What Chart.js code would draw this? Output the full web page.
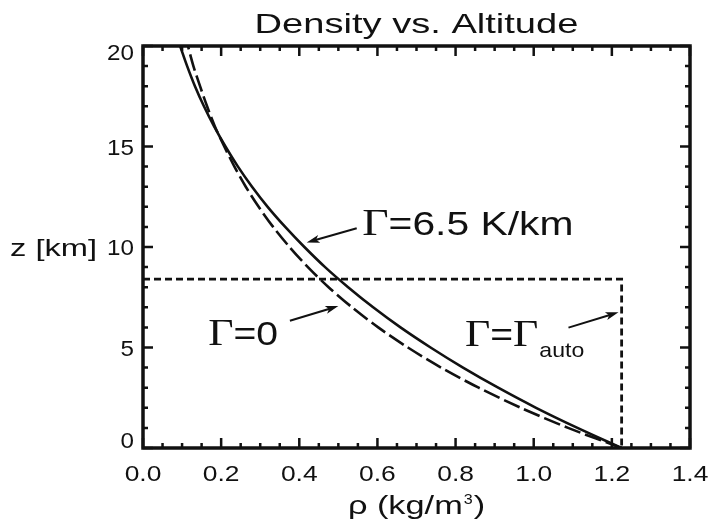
<!DOCTYPE html>
<html>
<head>
<meta charset="utf-8">
<script src="https://cdn.jsdelivr.net/npm/chart.js@4"></script>
<style>
  body { margin: 0; background: #fff; }
  #wrap { width: 714px; height: 528px; }
</style>
</head>
<body>
<div id="wrap"><canvas id="densityChart" width="714" height="528"></canvas></div>
<script>
// altitude grid (km) and densities (kg/m^3)
const altitude = [0, 1, 2, 3, 4, 5, 6, 7, 8, 9, 10, 11, 12, 13, 14, 15, 16, 17, 18, 19, 20];
const rhoLapse = [1.225, 1.112, 1.006, 0.909, 0.819, 0.736, 0.659, 0.589, 0.525, 0.466, 0.413,
                  0.364, 0.319, 0.279, 0.243, 0.211, 0.182, 0.156, 0.133, 0.113, 0.095];
const rhoIso   = [1.225, 1.088, 0.967, 0.859, 0.763, 0.678, 0.602, 0.535, 0.475, 0.422, 0.375,
                  0.333, 0.296, 0.263, 0.234, 0.208, 0.184, 0.164, 0.146, 0.129, 0.115];
// the Gamma_auto box: flat top then straight down at surface density
const autoRho = [0, 1.225, 1.225];
const autoZ   = [8.4, 8.4, 0];

const xTickValues = [0, 0.2, 0.4, 0.6, 0.8, 1.0, 1.2, 1.4];
const yTickValues = [0, 5, 10, 15, 20];

const SANS = '"Liberation Sans", Arial, Helvetica, sans-serif';
const SERIF = '"Liberation Serif", "Times New Roman", serif';

function toPoints(xs, ys) {
    return xs.map((x, i) => ({ x: x, y: ys[i] }));
}

// curve labels, anchored in data space
const notes = [
    { text: '=6.5 K/km', sub: null, sx: 1.2, x: 0.561, y: 10.6, ax: 0.547, ay: 10.93, tx: 0.419, ty: 10.23 },
    { text: '=0', sub: null, sx: 1.15, x: 0.167, y: 5.1, ax: 0.376, ay: 6.33, tx: 0.500, ty: 7.06 },
    { text: '=', sub: 'auto', sx: 1.15, x: 0.824, y: 5.05, ax: 1.089, ay: 5.99, tx: 1.217, ty: 6.75 }
];

// the original's lettering is drawn wider than normal, so stretch it sideways
function wideText(ctx, text, x, y, sx, align) {
    ctx.save();
    ctx.translate(x, y);
    ctx.scale(sx, 1);
    ctx.textAlign = align;
    ctx.fillText(text, 0, 0);
    ctx.restore();
    return ctx.measureText(text).width * sx;
}

function drawArrow(ctx, x1, y1, x2, y2) {
    const ang = Math.atan2(y2 - y1, x2 - x1);
    const len = 13, half = 4;
    ctx.beginPath();
    ctx.moveTo(x1, y1);
    ctx.lineTo(x2 - Math.cos(ang) * len * 0.7, y2 - Math.sin(ang) * len * 0.7);
    ctx.lineWidth = 2;
    ctx.stroke();
    ctx.beginPath();
    ctx.moveTo(x2, y2);
    ctx.lineTo(x2 - Math.cos(ang) * len + Math.sin(ang) * half, y2 - Math.sin(ang) * len - Math.cos(ang) * half);
    ctx.lineTo(x2 - Math.cos(ang) * len * 0.75, y2 - Math.sin(ang) * len * 0.75);
    ctx.lineTo(x2 - Math.cos(ang) * len - Math.sin(ang) * half, y2 - Math.sin(ang) * len + Math.cos(ang) * half);
    ctx.closePath();
    ctx.fill();
}

const idlFrame = {
    id: 'idlFrame',
    afterDraw(chart) {
        const ctx = chart.ctx;
        const a = chart.chartArea;
        const xs = chart.scales.x, ys = chart.scales.y;
        ctx.save();
        ctx.strokeStyle = '#111';
        ctx.fillStyle = '#111';

        // inward ticks on all four sides
        ctx.lineWidth = 2.5;
        for (let i = 0; i <= 28; i++) {
            const px = xs.getPixelForValue(i * 0.05);
            const len = (i % 4 === 0) ? 10 : 5;
            ctx.beginPath();
            ctx.moveTo(px, a.bottom); ctx.lineTo(px, a.bottom - len);
            ctx.moveTo(px, a.top); ctx.lineTo(px, a.top + len);
            ctx.stroke();
        }
        for (let i = 0; i <= 20; i++) {
            const py = ys.getPixelForValue(i);
            const len = (i % 5 === 0) ? 10 : 5;
            ctx.beginPath();
            ctx.moveTo(a.left, py); ctx.lineTo(a.left + len, py);
            ctx.moveTo(a.right, py); ctx.lineTo(a.right - len, py);
            ctx.stroke();
        }
        ctx.lineWidth = 3.5;
        ctx.strokeRect(a.left, a.top, a.right - a.left, a.bottom - a.top);

        // tick labels
        ctx.textBaseline = 'alphabetic';
        ctx.font = '22px ' + SANS;
        xTickValues.forEach(v => {
            wideText(ctx, v.toFixed(1), xs.getPixelForValue(v), a.bottom + 33, 1.2, 'center');
        });
        yTickValues.forEach(v => {
            let py = ys.getPixelForValue(v) + 8;
            if (v === 20) py += 6;
            if (v === 0) py -= 8;
            wideText(ctx, String(v), a.left - 9, py, 1.1, 'right');
        });

        // title and axis names
        ctx.font = '28px ' + SANS;
        wideText(ctx, 'Density vs. Altitude', (a.left + a.right) / 2, 33, 1.36, 'center');
        ctx.font = '24px ' + SANS;
        wideText(ctx, 'z [km]', 10, ys.getPixelForValue(10) + 9, 1.36, 'left');
        ctx.font = '26px ' + SANS;
        const rhoW = ctx.measureText('\u03c1 (kg/m').width * 1.32;
        const parW = ctx.measureText(')').width * 1.32;
        ctx.font = '14px ' + SANS;
        const supW = ctx.measureText('3').width * 1.15;
        let tx = (a.left + a.right) / 2 - (rhoW + supW + parW + 2) / 2;
        ctx.font = '26px ' + SANS;
        tx += wideText(ctx, '\u03c1 (kg/m', tx, 514, 1.32, 'left');
        ctx.font = '14px ' + SANS;
        tx += wideText(ctx, '3', tx + 1, 504, 1.15, 'left') + 2;
        ctx.font = '26px ' + SANS;
        wideText(ctx, ')', tx, 514, 1.32, 'left');

        // curve annotations
        notes.forEach(n => {
            let px = xs.getPixelForValue(n.x);
            const py = ys.getPixelForValue(n.y);
            ctx.font = '38px ' + SERIF;
            px += wideText(ctx, '\u0393', px, py, n.sx, 'left');
            ctx.font = '34px ' + SANS;
            px += wideText(ctx, n.text, px, py, n.sx, 'left');
            if (n.sub) {
                ctx.font = '38px ' + SERIF;
                px += wideText(ctx, '\u0393', px, py, n.sx, 'left');
                ctx.font = '21px ' + SANS;
                wideText(ctx, n.sub, px + 1, py + 11, 1.1, 'left');
            }
            drawArrow(ctx, xs.getPixelForValue(n.ax), ys.getPixelForValue(n.ay),
                      xs.getPixelForValue(n.tx), ys.getPixelForValue(n.ty));
        });
        ctx.restore();
    }
};

new Chart(document.getElementById('densityChart'), {
    type: 'scatter',
    data: {
        datasets: [
            {
                label: 'Gamma = 6.5 K/km',
                data: toPoints(rhoLapse, altitude),
                showLine: true, borderColor: '#111', borderWidth: 2.6,
                pointRadius: 0, tension: 0.3
            },
            {
                label: 'Gamma = 0',
                data: toPoints(rhoIso, altitude),
                showLine: true, borderColor: '#111', borderWidth: 2.6,
                borderDash: [17, 5], pointRadius: 0, tension: 0.3
            },
            {
                label: 'Gamma = Gamma_auto',
                data: toPoints(autoRho, autoZ),
                showLine: true, borderColor: '#111', borderWidth: 2.8,
                borderDash: [7, 4], pointRadius: 0, tension: 0
            }
        ]
    },
    options: {
        responsive: false,
        animation: false,
        layout: { padding: { top: 46, right: 24, left: 0, bottom: 0 } },
        plugins: {
            legend: { display: false },
            tooltip: { enabled: false }
        },
        scales: {
            x: {
                type: 'linear', min: 0, max: 1.4,
                afterFit: s => { s.height = 80; },
                afterBuildTicks: s => { s.ticks = xTickValues.map(v => ({ value: v })); },
                grid: { display: false, drawTicks: false },
                border: { display: false },
                ticks: { display: false }
            },
            y: {
                type: 'linear', min: 0, max: 20,
                afterFit: s => { s.width = 143; },
                afterBuildTicks: s => { s.ticks = yTickValues.map(v => ({ value: v })); },
                grid: { display: false, drawTicks: false },
                border: { display: false },
                ticks: { display: false }
            }
        }
    },
    plugins: [idlFrame]
});
</script>
</body>
</html>
